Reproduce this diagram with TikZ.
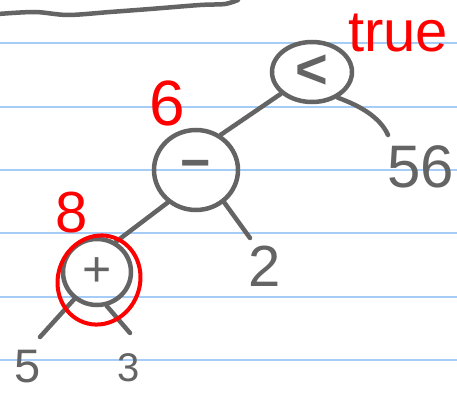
\documentclass[tikz,border=0pt]{standalone}
\usepackage{fontspec}
\setmainfont{Liberation Sans}
\usetikzlibrary{shapes.geometric}
\definecolor{pencil}{RGB}{100,100,100}
\definecolor{rulecol}{RGB}{165,205,248}
\definecolor{ink}{RGB}{255,0,0}
\tikzset{
  opnode/.style={ellipse, draw=pencil, line width=4.5pt, text=pencil, inner sep=0pt},
  leaf/.style={text=pencil, inner sep=0.5pt},
  note/.style={text=ink, inner sep=1pt},
  branch/.style={draw=pencil, line width=4.5pt, line cap=round},
  ruling/.style={draw=rulecol, line width=2pt},
  fs/.style={font=\fontsize{#1}{#1}\selectfont},
  fsb/.style={font=\fontsize{#1}{#1}\selectfont\bfseries},
}
\begin{document}
\begin{tikzpicture}[x=1pt,y=-1pt]
\useasboundingbox (0,0) rectangle (457,393);
\fill[white] (0,0) rectangle (457,393);
\foreach \yy in {43,106.6,170,233.4,296.6,360} \draw[ruling] (0,\yy) -- (457,\yy);
\draw[branch] plot[smooth] coordinates {(-2,14) (35,12) (68,15) (110,12) (150,9) (200,5) (225,4) (238,0)};

% operator nodes
\node[opnode, minimum width=80pt, minimum height=60pt, fsb=56] (lt) at (312,72) {<};
\node[opnode, minimum width=84pt, minimum height=80pt, fsb=52] (minus) at (196,170) {−};
\node[opnode, minimum width=68pt, minimum height=66pt, fs=50] (plus) at (97,272) {+};

% leaves
\node[leaf, fs=60] (n56) at (421,167) {56};
\node[leaf, fs=58] (n2) at (265,266) {2};
\node[leaf, fs=47] (n5) at (28,367) {5};
\node[leaf, fs=40] (n3) at (129,368) {3};

% red annotations
\node[note, fs=58] (true) at (398,33) {true};
\node[note, fs=64] (six) at (167,103) {6};
\node[note, fs=58] (eight) at (72,213) {8};

% free ends of leaf branches
\coordinate (e56) at (388,135);
\coordinate (e2) at (250,238);
\coordinate (e5) at (40,337);
\coordinate (e3) at (130,333);

\draw[branch] (lt.215) -- (minus.55);
\draw[branch] (lt.-45) .. controls +(22,8) and +(-8,-18) .. (e56);
\draw[branch] (minus.229) -- (plus.58);
\draw[branch] (minus.-49) -- (e2);
\draw[branch] (plus.230) -- (e5);
\draw[branch] (plus.-74) -- (e3);

\node[ellipse, draw=ink, line width=4pt, minimum width=82pt, minimum height=90pt, inner sep=0pt, rotate=-20] (ring) at (99,280) {};
\end{tikzpicture}
\end{document}
